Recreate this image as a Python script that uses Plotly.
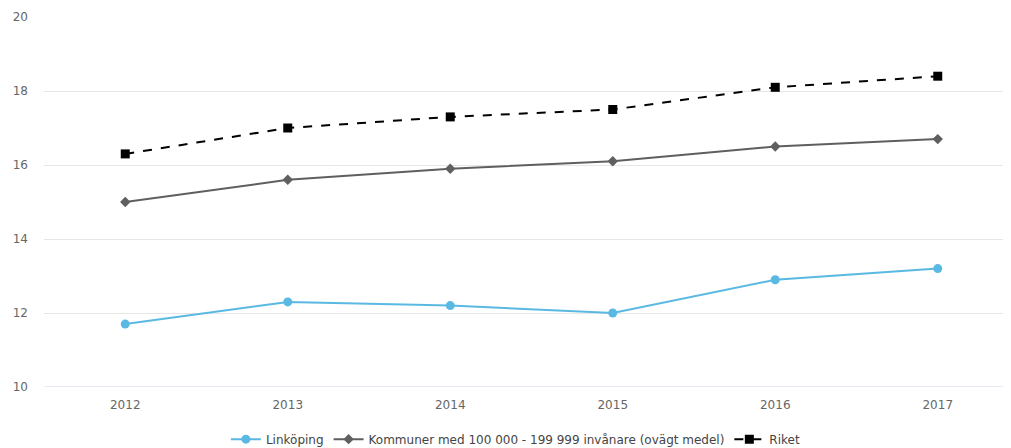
import plotly.graph_objects as go

years = [2012, 2013, 2014, 2015, 2016, 2017]
linkoping = [11.7, 12.3, 12.2, 12.0, 12.9, 13.2]
kommuner = [15.0, 15.6, 15.9, 16.1, 16.5, 16.7]
riket = [16.3, 17.0, 17.3, 17.5, 18.1, 18.4]
names = ["Linköping", "Kommuner med 100 000 - 199 999 invånare (ovägt medel)", "Riket"]
y_ticks = [10, 12, 14, 16, 18, 20]

fig = go.Figure()
fig.add_trace(go.Scatter(x=years, y=linkoping, name=names[0], mode="lines+markers",
                         line=dict(color="#5ab9e3", width=2),
                         marker=dict(symbol="circle", size=9, color="#5ab9e3")))
fig.add_trace(go.Scatter(x=years, y=kommuner, name=names[1], mode="lines+markers",
                         line=dict(color="#5f5f5f", width=2),
                         marker=dict(symbol="diamond", size=8, color="#5f5f5f")))
fig.add_trace(go.Scatter(x=years, y=riket, name=names[2], mode="lines+markers",
                         line=dict(color="#000000", width=2, dash="dash"),
                         marker=dict(symbol="square", size=9, color="#000000")))

fig.update_layout(
    width=1011, height=448,
    margin=dict(l=36, r=0, t=9, b=69),
    paper_bgcolor="white", plot_bgcolor="white",
    font=dict(family="DejaVu Sans", size=12, color="#666666"),
    showlegend=True,
    legend=dict(orientation="h", x=0.484, xanchor="center", xref="paper",
                yref="container", y=0.07, yanchor="top",
                font=dict(size=12, color="#444444"), itemwidth=30),
    xaxis=dict(range=[2011.5, 2017.5], tickvals=years, showgrid=False,
               showline=False, zeroline=False, ticks="", ticklabelstandoff=9,
               tickfont=dict(color="#666666")),
    yaxis=dict(range=[10, 20], tickvals=y_ticks, showgrid=True, gridcolor="#e6e6e6",
               gridwidth=1, zeroline=False, showline=False, ticks="",
               ticklabelstandoff=15, tickfont=dict(color="#666666")),
)
fig.add_hline(y=10, line=dict(color="#ccd6eb", width=1), layer="below")

fig.write_html("out.html")
